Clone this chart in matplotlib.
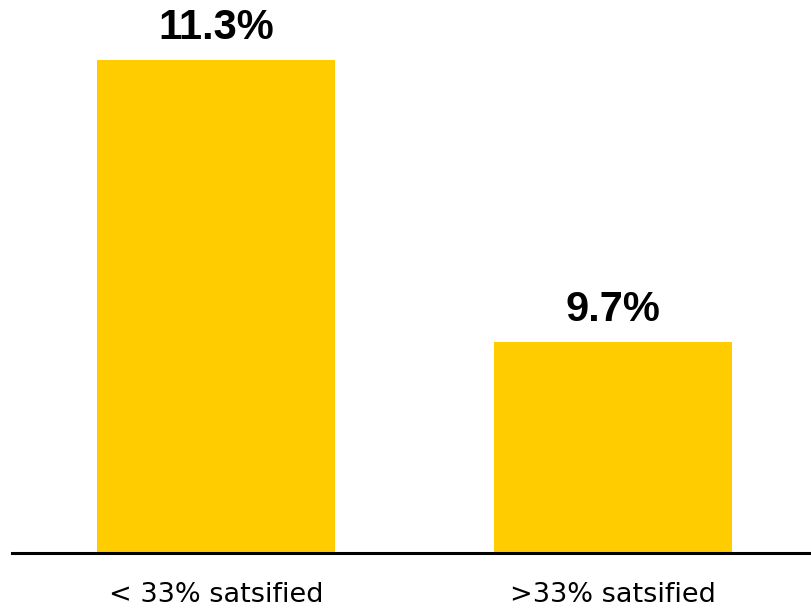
import matplotlib.pyplot as plt

categories = ["< 33% satsified", ">33% satsified"]
values = [11.3, 9.7]
labels = ["11.3%", "9.7%"]

fig = plt.figure(figsize=(8.12, 6.09), dpi=100)
ax = fig.add_axes([12 / 812, 56 / 609, 800 / 812, 553 / 609])

x = list(range(len(categories)))
bars = ax.bar(x, values, width=0.6, color="#FFCC00", bottom=0)

for b, lab in zip(bars, labels):
    ax.annotate(lab, (b.get_x() + b.get_width() / 2, b.get_height()),
                xytext=(0, 8.5), textcoords="offset points",
                ha="center", va="bottom", fontsize=30, fontweight="bold",
                family="Liberation Sans")

ax.set_xlim(-0.515, 1.503)
ax.set_ylim(8.503, 11.64)
ax.set_xticks(x)
ax.set_xticklabels(categories, fontsize=19.5, family="DejaVu Sans")
ax.tick_params(axis="x", length=0, pad=21)
ax.set_yticks([])

for s in ["top", "right", "left"]:
    ax.spines[s].set_visible(False)
ax.spines["bottom"].set_linewidth(2.2)
ax.spines["bottom"].set_color("black")

fig.savefig("out.png", dpi=100)
